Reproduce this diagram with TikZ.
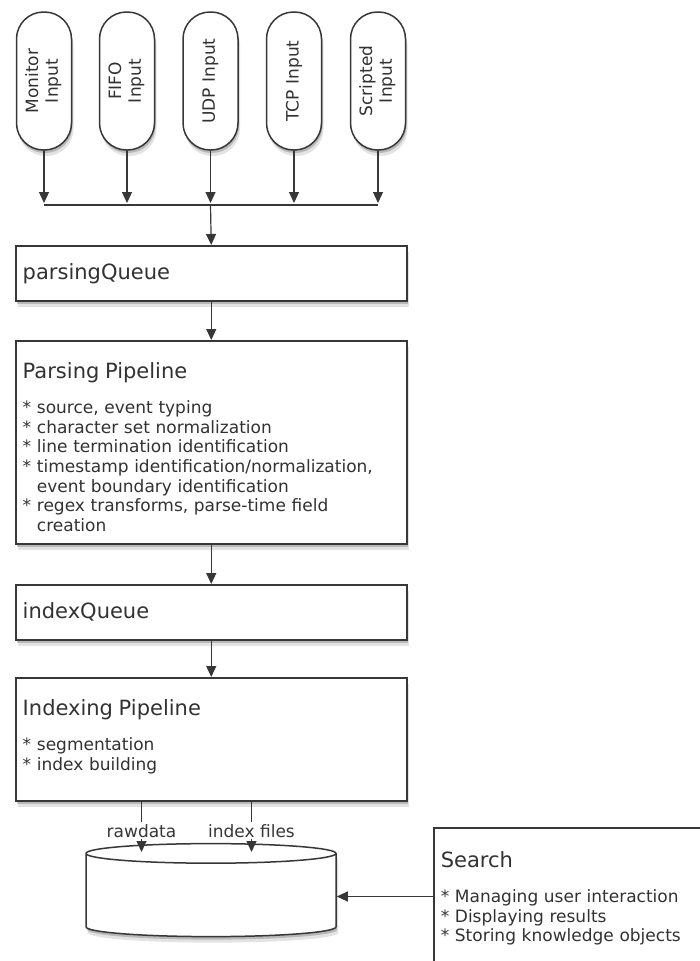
\documentclass[tikz,border=0pt]{standalone}
\usepackage{fontspec}
\setmainfont{DejaVu Sans}
\usepackage{tikz}
\usetikzlibrary{shapes.geometric, shadows, arrows.meta}
\definecolor{linegray}{RGB}{55, 55, 55}
\definecolor{textgray}{RGB}{50, 50, 50}
\newcommand{\titlefont}{\fontsize{21}{25}\selectfont}
\newcommand{\bodyfont}{\fontsize{17}{19.7}\selectfont}

\begin{document}
\begin{tikzpicture}[x=1pt, y=-1pt, font=\bodyfont, text=textgray,
  shadowed/.style = {drop shadow={shadow xshift=1pt, shadow yshift=-3pt, opacity=.35, fill=black!60},
                     drop shadow={shadow xshift=2pt, shadow yshift=-6pt, opacity=.18, fill=black!60}},
  pill/.style = {draw=linegray, line width=1.5pt, fill=white, rounded corners=27pt,
                 minimum width=55pt, minimum height=138pt, inner sep=0pt, shadowed},
  block/.style = {draw=linegray, line width=1.5pt, fill=white, anchor=north west,
                  text width=377pt, inner xsep=7pt, align=left, shadowed},
  wire/.style = {linegray, line width=1.2pt},
  arrow/.style = {wire, -{Triangle[length=11pt, width=10pt]}}]
\clip (0,0) rectangle (700,961);

% inputs
\node[pill] (mon) at (44,81) {\rotatebox{90}{\begin{tabular}{@{}c@{}}Monitor\\Input\end{tabular}}};
\node[pill] (fifo) at (127,81) {\rotatebox{90}{\begin{tabular}{@{}c@{}}FIFO\\Input\end{tabular}}};
\node[pill] (udp) at (210.5,81) {\rotatebox{90}{UDP Input}};
\node[pill] (tcp) at (294,81) {\rotatebox{90}{TCP Input}};
\node[pill] (scr) at (378,81) {\rotatebox{90}{\begin{tabular}{@{}c@{}}Scripted\\Input\end{tabular}}};

\coordinate (busL) at (44,205);
\coordinate (busR) at (378,205);
\draw[wire] (busL) -- (busR);
\foreach \n in {mon, fifo, udp, tcp, scr}
  \draw[arrow, shorten >=2pt] (\n.south) -- (\n.south |- busL);

% queues and pipelines
\node[block, minimum height=55pt, font=\titlefont] (pq) at (15,245) {parsingQueue};
\node[block, inner ysep=0pt, text height=38pt, text depth=165pt] (pp) at (15,340) {{\titlefont Parsing Pipeline}\\[15pt]
{*} source, event typing\\
{*} character set normalization\\
{*} line termination identification\\
{*} timestamp identification/normalization,\\
\phantom{* }event boundary identification\\
{*} regex transforms, parse-time field\\
\phantom{* }creation};
\node[block, minimum height=55pt, font=\titlefont] (iq) at (15,584) {indexQueue};
\node[block, inner ysep=0pt, text height=38pt, text depth=85pt] (ip) at (15,677) {{\titlefont Indexing Pipeline}\\[15pt]
{*} segmentation\\
{*} index building};

\draw[arrow] (udp.south |- busL) -- (pq.north);
\draw[arrow] (pq) -- (pp);
\draw[arrow] (pp) -- (iq);
\draw[arrow] (iq) -- (ip);

% storage and search
\node[cylinder, shape border rotate=90, draw=linegray, line width=1.5pt, fill=white, aspect=0.08,
      minimum width=250pt, minimum height=93pt, shadowed] (store) at (211,896.5) {\hspace*{238pt}};
\node[block, text width=300pt, inner ysep=0pt, text height=40pt, text depth=130pt] (search) at (433,827) {{\titlefont Search}\\[15pt]
{*} Managing user interaction\\
{*} Displaying results\\
{*} Storing knowledge objects};

\coordinate (rawin) at (141.5,852);
\coordinate (idxin) at (251.5,852);
\draw[arrow] (ip.south -| rawin) -- node[fill=white, pos=.58, inner sep=2pt] (rawlbl) {rawdata} (rawin);
\draw[arrow] (ip.south -| idxin) -- node[fill=white, pos=.58, inner sep=2pt] (idxlbl) {index files} (idxin);
\draw[arrow] (search.west |- store) -- (store);
\end{tikzpicture}
\end{document}
